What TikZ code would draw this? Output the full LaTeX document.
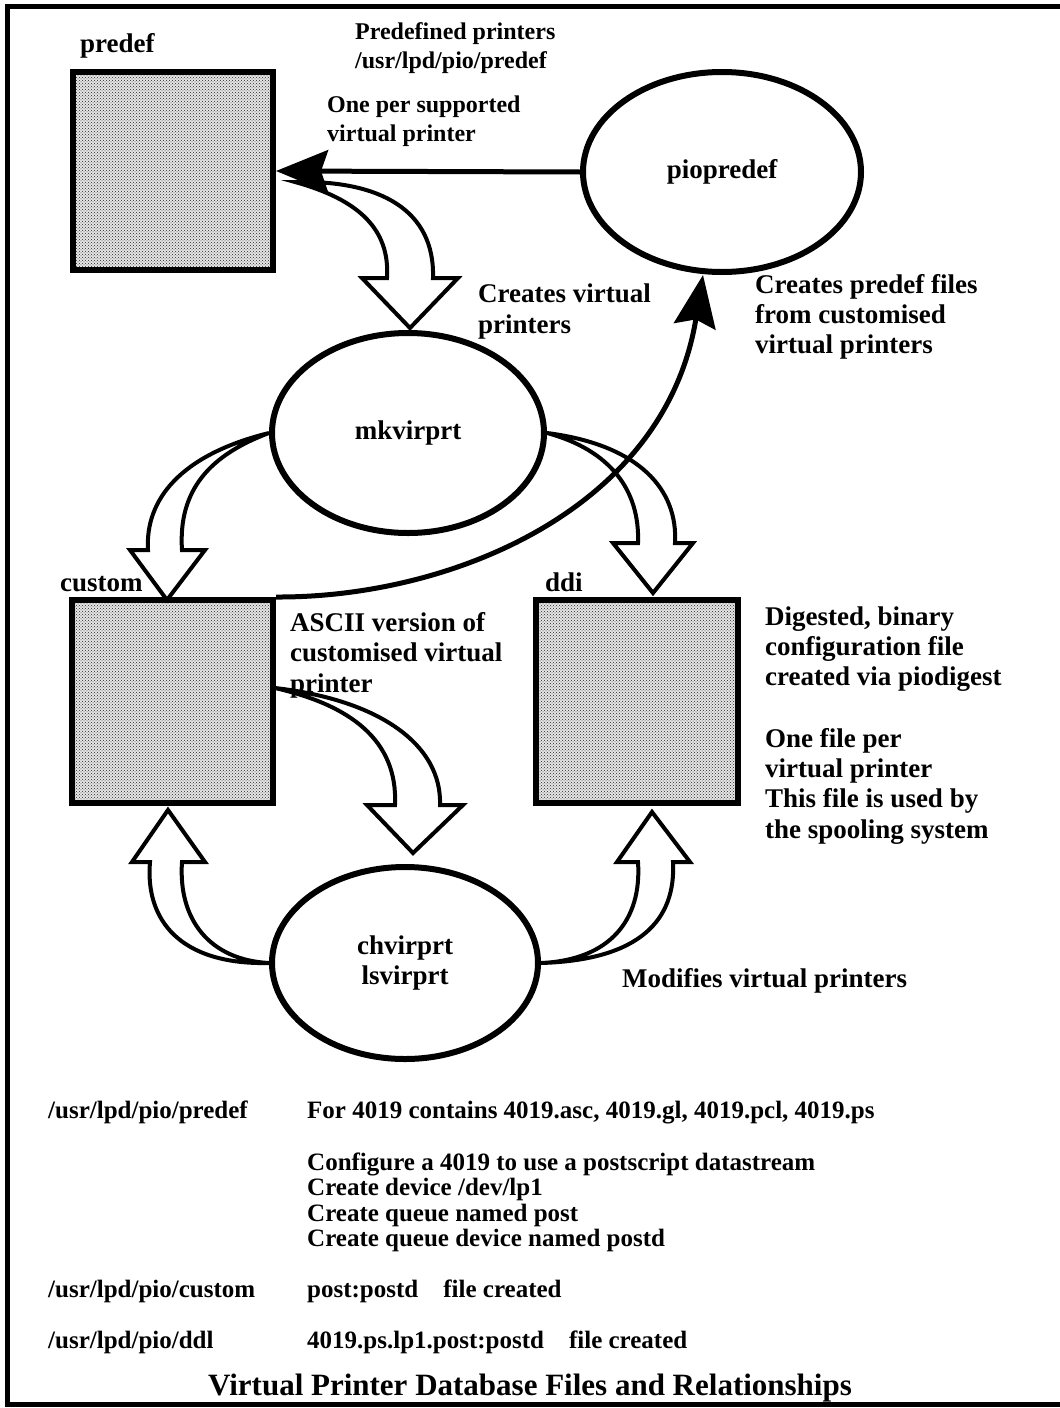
\documentclass[tikz,border=0pt]{standalone}
\usepackage{fontspec}
\setmainfont{Liberation Serif}
\usetikzlibrary{shapes.geometric,patterns,arrows.meta}
\tikzset{
  filebox/.style={draw, line width=6pt, inner sep=0pt, preaction={fill=black!10}, pattern=crosshatch dots, pattern color=black!85},
  prog/.style={draw, ellipse, line width=6pt, inner sep=0pt, align=center, font=\fontsize{27}{30}\selectfont\bfseries},
  boxname/.style={anchor=base west, inner sep=0pt, font=\fontsize{27}{30}\selectfont\bfseries},
  note/.style={anchor=base west, inner sep=0pt, align=left, font=\fontsize{27}{30.4}\selectfont\bfseries},
  topnote/.style={note, font=\fontsize{24}{29.5}\selectfont\bfseries},
  listing/.style={anchor=base west, inner sep=0pt, align=left, font=\fontsize{25}{25.5}\selectfont\bfseries},
  hollow/.style={draw, fill=white, line width=4pt, line join=miter},
  link/.style={line width=5pt, -{Stealth[length=52pt,width=42pt,inset=7pt]}},
}
\begin{document}
\begin{tikzpicture}[x=1pt,y=-1pt]
\useasboundingbox (0,0) rectangle (1060,1408);
% Frame
\draw[line width=5pt] (7,6) rectangle (1066,1404);
% Files
\node[filebox, minimum width=200pt, minimum height=198pt] (predef) at (173,171) {};
\node[filebox, minimum width=201pt, minimum height=203pt] (custom) at (172.5,701.5) {};
\node[filebox, minimum width=202pt, minimum height=203pt] (ddi) at (637,701.5) {};
\node[boxname] (predefname) at (80,52) {predef};
\node[boxname] (customname) at (60,591) {custom};
\node[boxname] (ddiname) at (545,591) {ddi};
% Programs
\node[prog, minimum width=278pt, minimum height=200pt] (piopredef) at (722,172) {piopredef};
\node[prog, minimum width=272pt, minimum height=200pt] (mkvirprt) at (408,433) {mkvirprt};
\node[prog, minimum width=266pt, minimum height=192pt] (chvirprt) at (405,963) {chvirprt\\lsvirprt};
% Hollow arrows
\draw[hollow] (295,182) .. controls (360,200) and (390,230) .. (387,278) -- (362,278) -- (410,328)
  -- (458,278) -- (433,278) .. controls (435,210) and (380,180) .. cycle;
\draw[hollow] (mkvirprt.west) .. controls (180,455) and (145,500) .. (148,550) -- (130,550) -- (167,600)
  -- (205,550) -- (182,550) .. controls (178,490) and (210,455) .. cycle;
\draw[hollow] (mkvirprt.east) .. controls (640,445) and (678,490) .. (675,543) -- (693,543) -- (653,593)
  -- (613,543) -- (638,543) .. controls (640,490) and (610,450) .. cycle;
\draw[hollow] (275,688) .. controls (380,700) and (442,745) .. (440,805) -- (463,805) -- (413,853)
  -- (367,805) -- (395,805) .. controls (398,740) and (350,705) .. cycle;
\draw[hollow] (chvirprt.west) .. controls (180,965) and (145,920) .. (150,862) -- (132,862) -- (168,810)
  -- (205,862) -- (182,862) .. controls (178,920) and (210,960) .. cycle;
\draw[hollow] (chvirprt.east) .. controls (640,960) and (676,920) .. (673,862) -- (690,862) -- (652,812)
  -- (617,862) -- (638,862) .. controls (642,920) and (610,960) .. cycle;
% Solid arrows
\draw[link] (piopredef.west) -- (predef.east);
\coordinate (pioin) at ([xshift=-19pt]piopredef.south);
\draw[link] (custom.north east) .. controls (450,598) and (665,510) .. (pioin);
% Notes (placed at the baseline of their last line)
\node[topnote] (prednote) at (355,68.5) {Predefined printers\\/usr/lpd/pio/predef};
\node[topnote] (onenote) at (327,141.5) {One per supported\\virtual printer};
\node[note] (mknote) at (478,333) {Creates virtual\\printers};
\node[note] (pionote) at (755,353.8) {Creates predef files\\from customised\\virtual printers};
\node[note] (asciinote) at (290,692) {ASCII version of\\customised virtual\\printer};
\node[note] (ddinote) at (765,685.8) {Digested, binary\\configuration file\\created via piodigest};
\node[note] (usenote) at (765,838.2) {One file per\\virtual printer\\This file is used by\\the spooling system};
\node[note] (chnote) at (622,987) {Modifies virtual printers};
% Listing
\node[listing] (dirpredef) at (48,1118) {/usr/lpd/pio/predef};
\node[listing] (dircustom) at (48,1297) {/usr/lpd/pio/custom};
\node[listing] (dirddi) at (48,1348) {/usr/lpd/pio/ddl};
\node[listing] (predefinfo) at (307,1118) {For 4019 contains 4019.asc, 4019.gl, 4019.pcl, 4019.ps};
\node[listing] (steps) at (307,1246.5) {Configure a 4019 to use a postscript datastream\\Create device /dev/lp1\\Create queue named post\\Create queue device named postd};
\node[listing] (custominfo) at (307,1297) {post:postd\quad file created};
\node[listing] (ddiinfo) at (307,1348) {4019.ps.lp1.post:postd\quad file created};
\node[anchor=base, inner sep=0pt, font=\fontsize{31}{31}\selectfont\bfseries] (title) at (530,1395) {Virtual Printer Database Files and Relationships};
\end{tikzpicture}
\end{document}
